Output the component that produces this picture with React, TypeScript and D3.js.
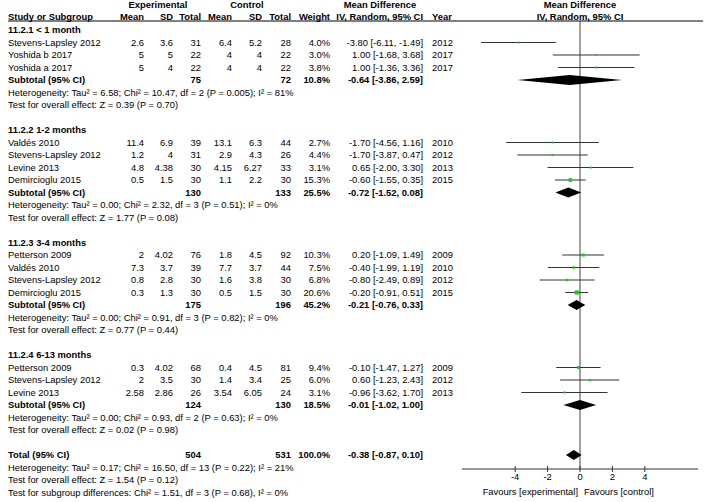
import React from "react";
import * as d3 from "d3";

// ---------- data ----------
const groupTitles = ["11.2.1 < 1 month", "11.2.2 1-2 months", "11.2.3 3-4 months", "11.2.4 6-13 months"];
const studyGroup = [0, 0, 0, 1, 1, 1, 1, 2, 2, 2, 2, 3, 3, 3];
const studyNames = [
  "Stevens-Lapsley 2012", "Yoshida b 2017", "Yoshida a 2017",
  "Valdés 2010", "Stevens-Lapsley 2012", "Levine 2013", "Demircioglu 2015",
  "Petterson 2009", "Valdés 2010", "Stevens-Lapsley 2012", "Demircioglu 2015",
  "Petterson 2009", "Stevens-Lapsley 2012", "Levine 2013",
];
const expMean = [2.6, 5, 5, 11.4, 1.2, 4.8, 0.5, 2, 7.3, 0.8, 0.3, 0.3, 2, 2.58];
const expSD = [3.6, 5, 4, 6.9, 4, 4.38, 1.5, 4.02, 3.7, 2.8, 1.3, 4.02, 3.5, 2.86];
const expN = [31, 22, 22, 39, 31, 30, 30, 76, 39, 30, 30, 68, 30, 26];
const ctlMean = [6.4, 4, 4, 13.1, 2.9, 4.15, 1.1, 1.8, 7.7, 1.6, 0.5, 0.4, 1.4, 3.54];
const ctlSD = [5.2, 4, 4, 6.3, 4.3, 6.27, 2.2, 4.5, 3.7, 3.8, 1.5, 4.5, 3.4, 6.05];
const ctlN = [28, 22, 22, 44, 26, 33, 30, 92, 44, 30, 30, 81, 25, 24];
const weights = [4.0, 3.0, 3.8, 2.7, 4.4, 3.1, 15.3, 10.3, 7.5, 6.8, 20.6, 9.4, 6.0, 3.1];
const md = [-3.8, 1.0, 1.0, -1.7, -1.7, 0.65, -0.6, 0.2, -0.4, -0.8, -0.2, -0.1, 0.6, -0.96];
const ciLow = [-6.11, -1.68, -1.36, -4.56, -3.87, -2.0, -1.55, -1.09, -1.99, -2.49, -0.91, -1.47, -1.23, -3.62];
const ciHigh = [-1.49, 3.68, 3.36, 1.16, 0.47, 3.3, 0.35, 1.49, 1.19, 0.89, 0.51, 1.27, 2.43, 1.7];
const years = [2012, 2017, 2017, 2010, 2012, 2013, 2015, 2009, 2010, 2012, 2015, 2009, 2012, 2013];

const subExpN = [75, 130, 175, 124];
const subCtlN = [72, 133, 196, 130];
const subWeight = [10.8, 25.5, 45.2, 18.5];
const subMD = [-0.64, -0.72, -0.21, -0.01];
const subLow = [-3.86, -1.52, -0.76, -1.02];
const subHigh = [2.59, 0.08, 0.33, 1.0];
const subHet = [
  "Heterogeneity: Tau² = 6.58; Chi² = 10.47, df = 2 (P = 0.005); I² = 81%",
  "Heterogeneity: Tau² = 0.00; Chi² = 2.32, df = 3 (P = 0.51); I² = 0%",
  "Heterogeneity: Tau² = 0.00; Chi² = 0.91, df = 3 (P = 0.82); I² = 0%",
  "Heterogeneity: Tau² = 0.00; Chi² = 0.93, df = 2 (P = 0.63); I² = 0%",
];
const subTest = [
  "Test for overall effect: Z = 0.39 (P = 0.70)",
  "Test for overall effect: Z = 1.77 (P = 0.08)",
  "Test for overall effect: Z = 0.77 (P = 0.44)",
  "Test for overall effect: Z = 0.02 (P = 0.98)",
];

const totalExpN = 504;
const totalCtlN = 531;
const totalWeight = 100.0;
const totalMD = -0.38;
const totalLow = -0.87;
const totalHigh = 0.1;
const totalNotes = [
  "Heterogeneity: Tau² = 0.17; Chi² = 16.50, df = 13 (P = 0.22); I² = 21%",
  "Test for overall effect: Z = 1.54 (P = 0.12)",
  "Test for subgroup differences: Chi² = 1.51, df = 3 (P = 0.68), I² = 0%",
];

const axisTicks = [-4, -2, 0, 2, 4];
const axisDomain = [-7.3, 7.3];
const favoursLeft = "Favours [experimental]";
const favoursRight = "Favours [control]";

// ---------- layout ----------
const W = 708;
const H = 502;
const FONT = "'Liberation Sans', Arial, sans-serif";
const FS = 9.4;
const ROW0 = 30;
const ROWH = 12.5;
const colX = { name: 8, eMean: 144, eSD: 173, eN: 201, cMean: 232, cSD: 262, cN: 291, w: 330, ci: 423, year: 432 };
const AXIS_Y = 469;
const HEADER_LINE_Y = 21;

type Row =
  | { kind: "title"; g: number }
  | { kind: "study"; i: number }
  | { kind: "sub"; g: number }
  | { kind: "note"; text: string }
  | { kind: "total" }
  | { kind: "blank" };

function buildRows(): Row[] {
  const rows: Row[] = [];
  groupTitles.forEach((_, g) => {
    rows.push({ kind: "title", g });
    studyGroup.forEach((sg, i) => {
      if (sg === g) rows.push({ kind: "study", i });
    });
    rows.push({ kind: "sub", g });
    rows.push({ kind: "note", text: subHet[g] });
    rows.push({ kind: "note", text: subTest[g] });
    rows.push({ kind: "blank" });
  });
  rows.push({ kind: "total" });
  totalNotes.forEach((t) => rows.push({ kind: "note", text: t }));
  return rows;
}

const fmtCI = (m: number, l: number, h: number) =>
  `${m.toFixed(2)} [${l.toFixed(2)}, ${h.toFixed(2)}]`;

export default function App() {
  const rows = buildRows();
  const x = d3.scaleLinear().domain(axisDomain).range([461.7, 698.3]);
  const sq = d3.scaleSqrt().domain([0, 25]).range([0, 4.6]);
  const yRow = (i: number) => ROW0 + i * ROWH;
  const base = 3.4;

  const T = (props: any) => (
    <text fontFamily={FONT} fontSize={FS} fill="#000" {...props} />
  );

  const diamond = (cy: number, m: number, l: number, h: number) => {
    const hh = 5;
    const p = d3.path();
    p.moveTo(x(l), cy);
    p.lineTo(x(m), cy - hh);
    p.lineTo(x(h), cy);
    p.lineTo(x(m), cy + hh);
    p.closePath();
    return <path d={p.toString()} fill="#000" />;
  };

  const els: React.ReactNode[] = [];
  rows.forEach((r, idx) => {
    const cy = yRow(idx);
    const by = cy + base;
    const k = `r${idx}`;
    if (r.kind === "title") {
      els.push(<T key={k} x={colX.name} y={by} fontWeight="bold">{groupTitles[r.g]}</T>);
    } else if (r.kind === "study") {
      const i = r.i;
      const s = Math.max(2, sq(weights[i]));
      els.push(
        <g key={k}>
          <T x={colX.name} y={by}>{studyNames[i]}</T>
          <T x={colX.eMean} y={by} textAnchor="end">{String(expMean[i])}</T>
          <T x={colX.eSD} y={by} textAnchor="end">{String(expSD[i])}</T>
          <T x={colX.eN} y={by} textAnchor="end">{String(expN[i])}</T>
          <T x={colX.cMean} y={by} textAnchor="end">{String(ctlMean[i])}</T>
          <T x={colX.cSD} y={by} textAnchor="end">{String(ctlSD[i])}</T>
          <T x={colX.cN} y={by} textAnchor="end">{String(ctlN[i])}</T>
          <T x={colX.w} y={by} textAnchor="end">{weights[i].toFixed(1) + "%"}</T>
          <T x={colX.ci} y={by} textAnchor="end">{fmtCI(md[i], ciLow[i], ciHigh[i])}</T>
          <T x={colX.year} y={by}>{String(years[i])}</T>
          <line x1={x(ciLow[i])} x2={x(ciHigh[i])} y1={cy} y2={cy} stroke="#333" strokeWidth={1} />
          <rect x={x(md[i]) - s / 2} y={cy - s / 2} width={s} height={s} fill="#19c819" />
        </g>
      );
    } else if (r.kind === "sub") {
      const g = r.g;
      els.push(
        <g key={k} fontWeight="bold">
          <T x={colX.name} y={by} fontWeight="bold">Subtotal (95% CI)</T>
          <T x={colX.eN} y={by} textAnchor="end" fontWeight="bold">{String(subExpN[g])}</T>
          <T x={colX.cN} y={by} textAnchor="end" fontWeight="bold">{String(subCtlN[g])}</T>
          <T x={colX.w} y={by} textAnchor="end" fontWeight="bold">{subWeight[g].toFixed(1) + "%"}</T>
          <T x={colX.ci} y={by} textAnchor="end" fontWeight="bold">{fmtCI(subMD[g], subLow[g], subHigh[g])}</T>
          {diamond(cy, subMD[g], subLow[g], subHigh[g])}
        </g>
      );
    } else if (r.kind === "note") {
      els.push(<T key={k} x={colX.name} y={by}>{r.text}</T>);
    } else if (r.kind === "total") {
      els.push(
        <g key={k}>
          <T x={colX.name} y={by} fontWeight="bold">Total (95% CI)</T>
          <T x={colX.eN} y={by} textAnchor="end" fontWeight="bold">{String(totalExpN)}</T>
          <T x={colX.cN} y={by} textAnchor="end" fontWeight="bold">{String(totalCtlN)}</T>
          <T x={colX.w} y={by} textAnchor="end" fontWeight="bold">{totalWeight.toFixed(1) + "%"}</T>
          <T x={colX.ci} y={by} textAnchor="end" fontWeight="bold">{fmtCI(totalMD, totalLow, totalHigh)}</T>
          {diamond(cy, totalMD, totalLow, totalHigh)}
        </g>
      );
    }
  });

  const x0 = x(0);
  const h1 = 5 + base;
  const h2 = 16.5 + base;

  return (
    <div style={{ position: "fixed", left: 0, top: 0, width: W, height: H, background: "#fff" }}>
      <svg width={W} height={H} style={{ display: "block" }}>
        <rect width={W} height={H} fill="#fff" />
        {/* headers */}
        <T x={158} y={h1} textAnchor="middle" fontWeight="bold">Experimental</T>
        <T x={247} y={h1} textAnchor="middle" fontWeight="bold">Control</T>
        <T x={380} y={h1} textAnchor="middle" fontWeight="bold">Mean Difference</T>
        <T x={x0} y={h1} textAnchor="middle" fontWeight="bold">Mean Difference</T>
        <T x={colX.name} y={h2} fontWeight="bold">Study or Subgroup</T>
        <T x={colX.eMean} y={h2} textAnchor="end" fontWeight="bold">Mean</T>
        <T x={colX.eSD} y={h2} textAnchor="end" fontWeight="bold">SD</T>
        <T x={colX.eN} y={h2} textAnchor="end" fontWeight="bold">Total</T>
        <T x={colX.cMean} y={h2} textAnchor="end" fontWeight="bold">Mean</T>
        <T x={colX.cSD} y={h2} textAnchor="end" fontWeight="bold">SD</T>
        <T x={colX.cN} y={h2} textAnchor="end" fontWeight="bold">Total</T>
        <T x={colX.w} y={h2} textAnchor="end" fontWeight="bold">Weight</T>
        <T x={colX.ci} y={h2} textAnchor="end" fontWeight="bold">IV, Random, 95% CI</T>
        <T x={colX.year} y={h2} fontWeight="bold">Year</T>
        <T x={x0} y={h2} textAnchor="middle" fontWeight="bold">IV, Random, 95% CI</T>
        <line x1={8} x2={703} y1={HEADER_LINE_Y} y2={HEADER_LINE_Y} stroke="#000" strokeWidth={1} />

        {/* zero line */}
        <line x1={x0} x2={x0} y1={HEADER_LINE_Y} y2={AXIS_Y} stroke="#444" strokeWidth={1} />

        {els}

        {/* axis */}
        <line x1={x(axisDomain[0])} x2={x(axisDomain[1])} y1={AXIS_Y} y2={AXIS_Y} stroke="#333" strokeWidth={1} />
        {axisTicks.map((t) => (
          <g key={`t${t}`}>
            <line x1={x(t)} x2={x(t)} y1={AXIS_Y - 3} y2={AXIS_Y + 3} stroke="#333" strokeWidth={1} />
            <T x={x(t)} y={476.5 + base} textAnchor="middle">{String(t)}</T>
          </g>
        ))}
        <T x={x0 - 2} y={491.5 + base} textAnchor="end">{favoursLeft}</T>
        <T x={x0 + 4} y={491.5 + base}>{favoursRight}</T>
      </svg>
    </div>
  );
}
